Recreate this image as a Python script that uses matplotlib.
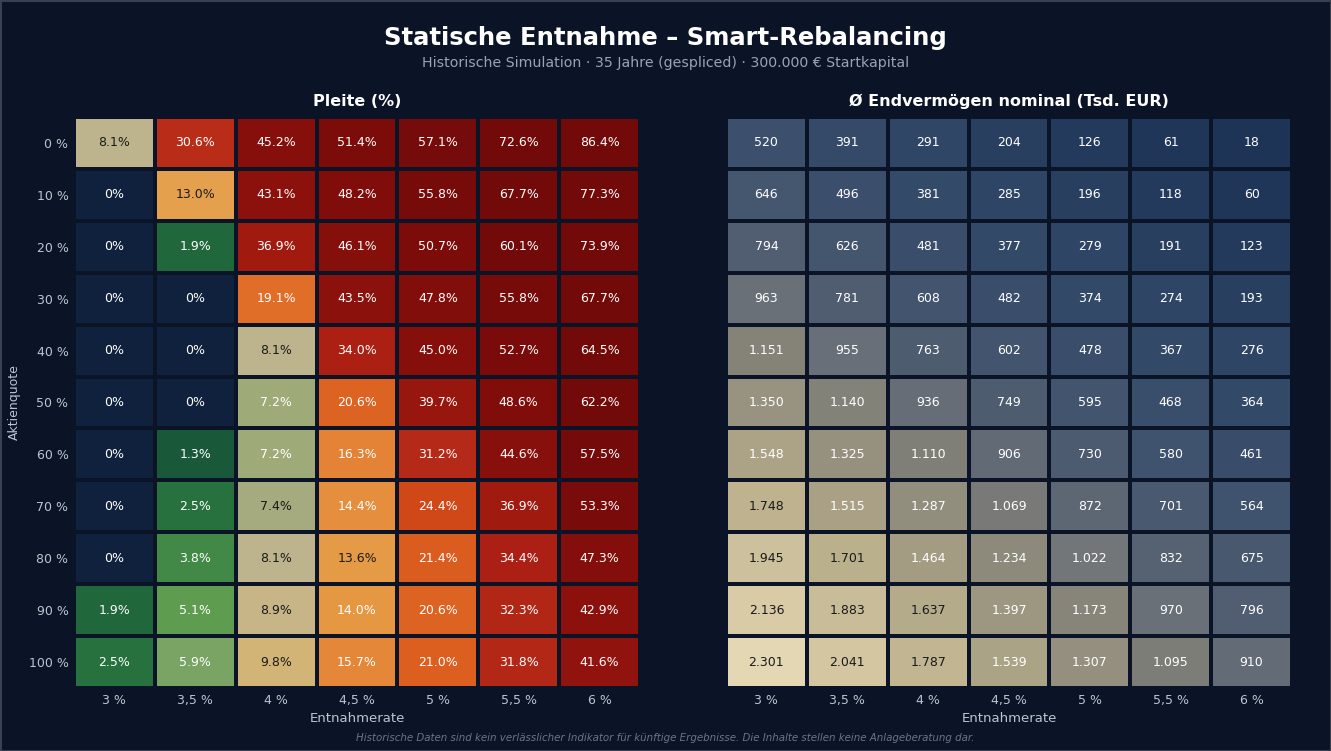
import numpy as np
import matplotlib
matplotlib.use("Agg")
import matplotlib.pyplot as plt
from matplotlib.colors import LinearSegmentedColormap, Normalize

# ---------------- data ----------------
entnahmeraten = ["3 %", "3,5 %", "4 %", "4,5 %", "5 %", "5,5 %", "6 %"]
aktienquoten = ["0 %", "10 %", "20 %", "30 %", "40 %", "50 %", "60 %", "70 %", "80 %", "90 %", "100 %"]

pleite = np.array([
    [8.1, 30.6, 45.2, 51.4, 57.1, 72.6, 86.4],
    [0.0, 13.0, 43.1, 48.2, 55.8, 67.7, 77.3],
    [0.0, 1.9, 36.9, 46.1, 50.7, 60.1, 73.9],
    [0.0, 0.0, 19.1, 43.5, 47.8, 55.8, 67.7],
    [0.0, 0.0, 8.1, 34.0, 45.0, 52.7, 64.5],
    [0.0, 0.0, 7.2, 20.6, 39.7, 48.6, 62.2],
    [0.0, 1.3, 7.2, 16.3, 31.2, 44.6, 57.5],
    [0.0, 2.5, 7.4, 14.4, 24.4, 36.9, 53.3],
    [0.0, 3.8, 8.1, 13.6, 21.4, 34.4, 47.3],
    [1.9, 5.1, 8.9, 14.0, 20.6, 32.3, 42.9],
    [2.5, 5.9, 9.8, 15.7, 21.0, 31.8, 41.6],
])

endvermoegen = np.array([
    [520, 391, 291, 204, 126, 61, 18],
    [646, 496, 381, 285, 196, 118, 60],
    [794, 626, 481, 377, 279, 191, 123],
    [963, 781, 608, 482, 374, 274, 193],
    [1151, 955, 763, 602, 478, 367, 276],
    [1350, 1140, 936, 749, 595, 468, 364],
    [1548, 1325, 1110, 906, 730, 580, 461],
    [1748, 1515, 1287, 1069, 872, 701, 564],
    [1945, 1701, 1464, 1234, 1022, 832, 675],
    [2136, 1883, 1637, 1397, 1173, 970, 796],
    [2301, 2041, 1787, 1539, 1307, 1095, 910],
])

# ---------------- style ----------------
BG = "#0b1426"
ZERO = "#10213d"
TICK = "#bcc4d0"
W = 13.31
H = 7.51

fig = plt.figure(figsize=(W, H), dpi=100, facecolor=BG)
fig.patch.set_edgecolor("#3a4252")
fig.patch.set_linewidth(2)

def ax_rect(x0, y0, x1, y1):
    return [x0 / 1331, 1 - y1 / 751, (x1 - x0) / 1331, (y1 - y0) / 751]

axL = fig.add_axes(ax_rect(74, 117, 640, 688))
axR = fig.add_axes(ax_rect(726, 117, 1292, 688))

# left colormap (value anchored, 0..60)
vmaxL = 60.0
nodesL = [
    (0.0, "#134c36"), (1.3, "#1a5a3a"), (2.5, "#28743f"), (3.8, "#438a48"),
    (5.1, "#62a050"), (5.9, "#7aa463"), (7.2, "#a3ab7c"), (7.4, "#a8ac80"),
    (8.1, "#c0b48f"), (8.9, "#cab584"), (9.8, "#d4b473"), (13.0, "#e4a04c"),
    (13.6, "#e59c46"), (14.4, "#e58d3c"), (16.0, "#e48436"), (19.1, "#e06e28"),
    (21.0, "#dc5f20"), (24.4, "#d04818"), (31.0, "#b62a18"), (34.0, "#ac2014"),
    (37.0, "#a01a10"), (43.0, "#8c110c"), (50.0, "#7d0c0a"), (60.0, "#720a0a"),
]
cmapL = LinearSegmentedColormap.from_list(
    "pleite", [(v / vmaxL, c) for v, c in nodesL])
cmapL.set_bad(ZERO)

nodesR = [
    (0, "#1c3355"), (126, "#243a5c"), (291, "#2f4666"), (520, "#3c506d"),
    (794, "#515e71"), (963, "#6a7078"), (1151, "#858378"), (1350, "#989280"),
    (1548, "#aca386"), (1748, "#beb38e"), (1945, "#cdc09c"), (2136, "#d8cba6"),
    (2301, "#e4d7b3"),
]
vmaxR = 2301.0
cmapR = LinearSegmentedColormap.from_list(
    "endv", [(v / vmaxR, c) for v, c in nodesR])

nr, nc = pleite.shape
dataL = np.ma.masked_equal(pleite, 0.0)

axL.pcolormesh(np.arange(nc + 1), np.arange(nr + 1), dataL, cmap=cmapL,
               norm=Normalize(0, vmaxL), edgecolors=BG, linewidth=1.6)
axR.pcolormesh(np.arange(nc + 1), np.arange(nr + 1), endvermoegen, cmap=cmapR,
               norm=Normalize(0, vmaxR), edgecolors=BG, linewidth=1.6)

for i in range(nr):
    for j in range(nc):
        v = pleite[i, j]
        lab = "0%" if v == 0 else f"{v:.1f}%"
        dark = 7.3 <= v <= 13.8
        axL.text(j + 0.5, i + 0.5, lab, ha="center", va="center", fontsize=9,
                 color="#1a1a1a" if dark else "white")
        e = endvermoegen[i, j]
        labr = f"{e:,}".replace(",", ".")
        axR.text(j + 0.5, i + 0.5, labr, ha="center", va="center", fontsize=9,
                 color="#1a1a1a" if e >= 1600 else "white")

for ax in (axL, axR):
    ax.set_facecolor(BG)
    ax.set_xlim(0, nc)
    ax.set_ylim(nr, 0)
    ax.set_xticks(np.arange(nc) + 0.5)
    ax.set_xticklabels(entnahmeraten)
    ax.tick_params(axis="both", length=0, colors=TICK, labelsize=9, pad=4)
    for s in ax.spines.values():
        s.set_visible(False)
    ax.set_xlabel("Entnahmerate", color=TICK, fontsize=9.5, labelpad=4)

axL.set_yticks(np.arange(nr) + 0.5)
axL.set_yticklabels(aktienquoten)
axR.set_yticks([])

axL.set_title("Pleite (%)", color="white", fontsize=11.5, fontweight="bold", pad=8)
axR.set_title("Ø Endvermögen nominal (Tsd. EUR)", color="white", fontsize=11.5,
              fontweight="bold", pad=8)

fig.text(14 / 1331, 1 - 402 / 751, "Aktienquote", rotation=90, color=TICK,
         fontsize=9, ha="center", va="center")

fig.text(0.5, 1 - 38 / 751, "Statische Entnahme – Smart-Rebalancing", color="white",
         fontsize=17.5, fontweight="bold", ha="center", va="center")
fig.text(0.5, 1 - 63 / 751,
         "Historische Simulation · 35 Jahre (gespliced) · 300.000 € Startkapital",
         color="#9aa3b2", fontsize=10.15, ha="center", va="center")
fig.text(0.5, 1 - 738 / 751,
         "Historische Daten sind kein verlässlicher Indikator für künftige Ergebnisse. "
         "Die Inhalte stellen keine Anlageberatung dar.",
         color="#6b7585", fontsize=7.4, style="italic", ha="center", va="center")

fig.savefig("out.png", dpi=100, facecolor=BG, edgecolor=fig.patch.get_edgecolor())
